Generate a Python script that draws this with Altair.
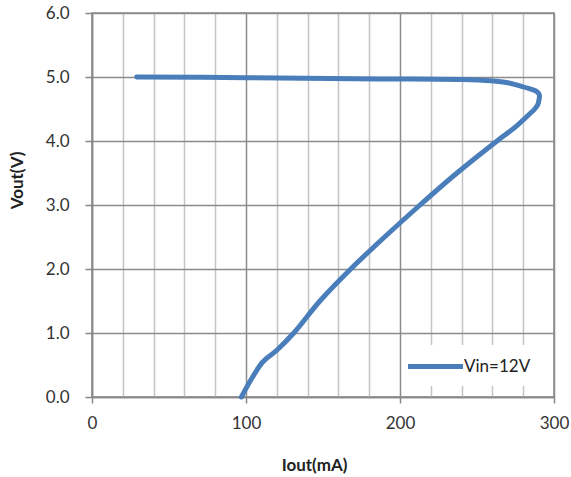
import altair as alt
import pandas as pd

iout = [29, 100, 187, 240, 259, 270, 278, 285, 289, 290.5, 290.3, 289.5, 287.5, 284.5, 275, 263, 237, 213, 190, 168, 148, 131, 120, 111, 104, 97]
vout = [5.0, 4.99, 4.97, 4.96, 4.94, 4.91, 4.86, 4.81, 4.77, 4.72, 4.65, 4.57, 4.50, 4.43, 4.22, 4.0, 3.5, 3.0, 2.5, 2.0, 1.5, 1.0, 0.73, 0.55, 0.30, 0.0]
series = "Vin=12V"
x_grid = list(range(0, 301, 20))
y_ticks = [0, 1, 2, 3, 4, 5, 6]

df = pd.DataFrame({"Iout": iout, "Vout": vout, "order": list(range(len(iout))), "series": series})

FONT = "Lato"
line = alt.Chart(df).mark_line(strokeWidth=5, strokeCap="round", strokeJoin="round", interpolate="catmull-rom").encode(
    x=alt.X("Iout:Q", scale=alt.Scale(domain=[0, 300], nice=False),
            axis=alt.Axis(values=x_grid, title="Iout(mA)", format="d", labelFlush=False,
                          labelExpr="datum.value % 100 === 0 ? datum.label : ''",
                          tickColor={"condition": {"test": "datum.value % 100 === 0", "value": "#888888"}, "value": "transparent"},
                          gridColor={"condition": {"test": "datum.value % 100 === 0", "value": "#8c8c8c"}, "value": "#c4c4c4"},
                          gridWidth=1.5, tickSize=6, tickWidth=1.5, labelPadding=12,
                          titleX=222, titleY=68, titleBaseline="middle", titleAlign="center")),
    y=alt.Y("Vout:Q", scale=alt.Scale(domain=[0, 6], nice=False),
            axis=alt.Axis(values=y_ticks, format=".1f", title="Vout(V)", gridColor="#8c8c8c", gridWidth=1.5,
                          labelFlush=False,
                          tickSize=7, tickColor="#888888", tickWidth=1.5, labelPadding=16,
                          titleX=-75, titleY=167, titleAlign="center", titleBaseline="middle", titleAngle=-90)),
    order="order:Q",
    color=alt.Color("series:N", scale=alt.Scale(range=["#4a7ebb"]),
                    legend=alt.Legend(title=None, orient="none", legendX=322, legendY=332,
                                      symbolType="M-2.75,0H2.75", symbolSize=400, symbolStrokeWidth=5,
                                      fillColor="white", padding=9, labelFontSize=17, labelFont=FONT,
                                      labelColor="#222222", labelOffset=16)),
)

chart = line.properties(
    width=462, height=384,
    autosize=alt.AutoSizeParams(type="none"),
    padding={"left": 92, "top": 13, "right": 17, "bottom": 80},
).configure_view(stroke="#888888", strokeWidth=1.5).configure_axis(
    domainColor="#888888", domainWidth=1.5, labelFont=FONT, labelFontSize=17, labelColor="#333333",
    titleFont=FONT, titleFontSize=17, titleFontWeight="bold", titleColor="#222222"
)

chart.save("out.html", embed_options={"renderer": "svg", "actions": False})
